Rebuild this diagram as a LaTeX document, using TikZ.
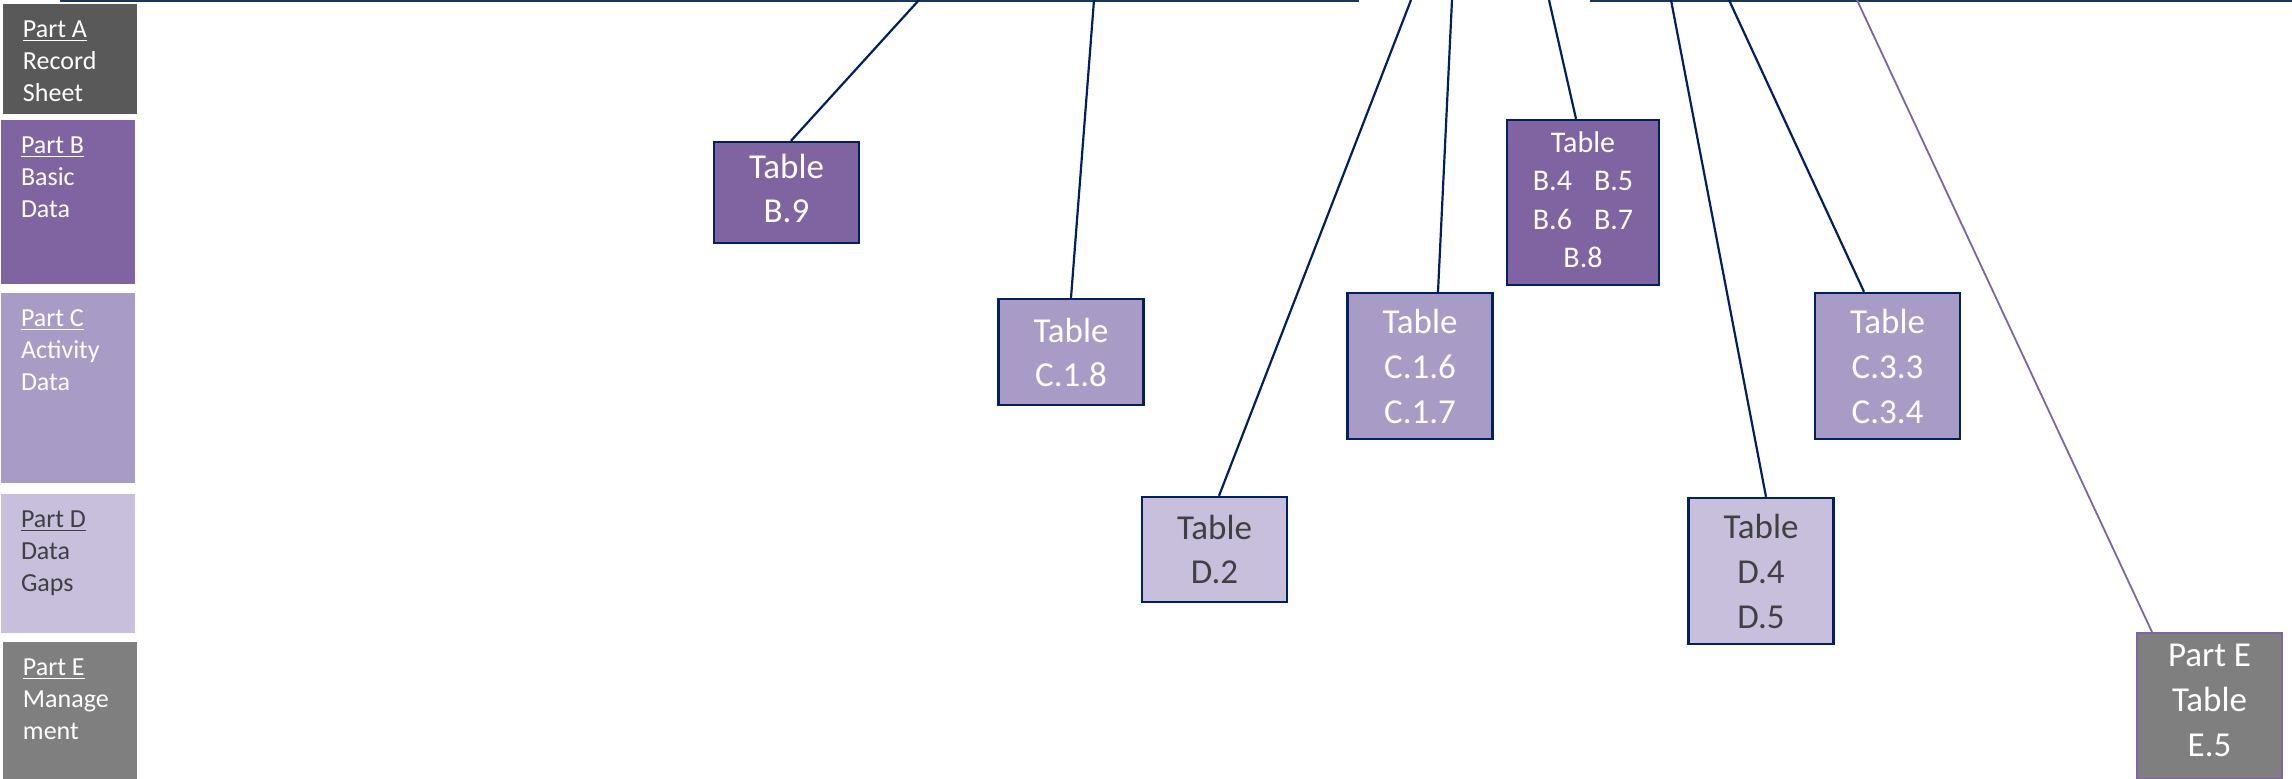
\documentclass[tikz,border=0pt]{standalone}
\usepackage{fontspec}
\setmainfont{Carlito}
\definecolor{navy}{HTML}{002060}
\definecolor{topline}{HTML}{17375E}
\definecolor{pA}{HTML}{595959}
\definecolor{pB}{HTML}{8064A2}
\definecolor{pC}{HTML}{A89BC6}
\definecolor{pD}{HTML}{C7BFDB}
\definecolor{pE}{HTML}{7F7F7F}
\definecolor{dtext}{HTML}{404040}
\tikzset{
  partbox/.style={draw=none, inner sep=0pt, minimum width=67pt},
  parttext/.style={inner sep=0pt, align=left, anchor=north west, text=white,
    font=\fontsize{13}{16}\selectfont},
  tbl/.style={draw=navy, line width=1.2pt, inner sep=0pt, align=center,
    minimum width=72.5pt, text=white, font=\fontsize{17.5}{22}\selectfont},
  tbl3/.style={tbl, minimum height=73pt, font=\fontsize{17.5}{22.5}\selectfont},
  conn/.style={draw=navy, line width=1.1pt},
  pconn/.style={draw=pB, line width=0.9pt},
  topln/.style={draw=topline, line width=1.4pt},
}
\begin{document}
\begin{tikzpicture}[x=0.5pt,y=-0.5pt]
\useasboundingbox (0,0) rectangle (2292,778);
\fill[white] (0,0) rectangle (2292,778);

% top rule
\coordinate (l1a) at (60,0.6);
\coordinate (l1b) at (1359,0.6);
\coordinate (l2a) at (1590,0.6);
\coordinate (l2b) at (2300,0.6);
\draw[topln] (l1a) -- (l1b);
\draw[topln] (l2a) -- (l2b);

% left legend column
\node[partbox, fill=pA, minimum height=55pt] (pa) at (70,59) {};
\node[parttext] (pat) at ([shift={(20,17)}]pa.north west) {\underline{Part A}\\Record\\Sheet};
\node[partbox, fill=pB, minimum height=82pt] (pb) at (68,202) {};
\node[parttext] (pbt) at ([shift={(20,17)}]pb.north west) {\underline{Part B}\\Basic\\Data};
\node[partbox, fill=pC, minimum height=95pt] (pc) at (68,388) {};
\node[parttext] (pct) at ([shift={(20,17)}]pc.north west) {\underline{Part C}\\Activity\\Data};
\node[partbox, fill=pD, minimum height=69.5pt] (pd) at (68,563.5) {};
\node[parttext, text=dtext] (pdt) at ([shift={(20,17)}]pd.north west) {\underline{Part D}\\Data\\Gaps};
\node[partbox, fill=pE, minimum height=72pt] (pe) at (70,714) {};
\node[parttext] (pet) at ([shift={(20,17)}]pe.north west) {\underline{Part E}\\Manage\\ment};

% table boxes
\node[tbl, fill=pB, minimum height=50.5pt, text depth=4pt] (b9) at (786.5,192.5) {Table\\B.9};
\node[tbl, fill=pC, minimum height=53pt] (c18) at (1071,352) {Table\\C.1.8};
\node[tbl, fill=pD, text=dtext, minimum height=52.5pt] (d2) at (1214.5,549.5) {Table\\D.2};
\node[tbl3, fill=pC] (c167) at (1420,366) {Table\\C.1.6\\C.1.7};
\node[tbl, fill=pB, minimum width=76pt, minimum height=82.5pt, text depth=3pt, font=\fontsize{15}{19.25}\selectfont] (b48) at (1583,202.5) {Table\\B.4\hspace{11pt}B.5\\B.6\hspace{11pt}B.7\\B.8};
\node[tbl3, fill=pD, text=dtext] (d45) at (1761,571) {Table\\D.4\\D.5};
\node[tbl3, fill=pC] (c334) at (1887.5,366) {Table\\C.3.3\\C.3.4};
\node[tbl3, draw=pB, line width=1pt, fill=pE, text depth=6pt] (pe5) at (2209.5,706) {Part E\\Table\\E.5};

% connector top ends
\coordinate (tb9) at (919,0);
\coordinate (tc18) at (1094,0);
\coordinate (td2) at (1411,0);
\coordinate (tc167) at (1452,0);
\coordinate (tb48) at (1549,0);
\coordinate (td45) at (1671,0);
\coordinate (tc334) at (1729,0);
\coordinate (tpe5) at (1857,0);

\draw[conn] ([shift={(4.5,0)}]b9.north) -- (tb9);
\draw[conn] (c18.north) -- (tc18);
\draw[conn] ([shift={(4.5,0)}]d2.north) -- (td2);
\draw[conn] ([shift={(18,0)}]c167.north) -- (tc167);
\draw[conn] ([shift={(-7,0)}]b48.north) -- (tb48);
\draw[conn] ([shift={(5,0)}]d45.north) -- (td45);
\draw[conn] ([shift={(-23.5,0)}]c334.north) -- (tc334);
\draw[pconn] ([shift={(-57.5,0)}]pe5.north) -- (tpe5);
\end{tikzpicture}
\end{document}
